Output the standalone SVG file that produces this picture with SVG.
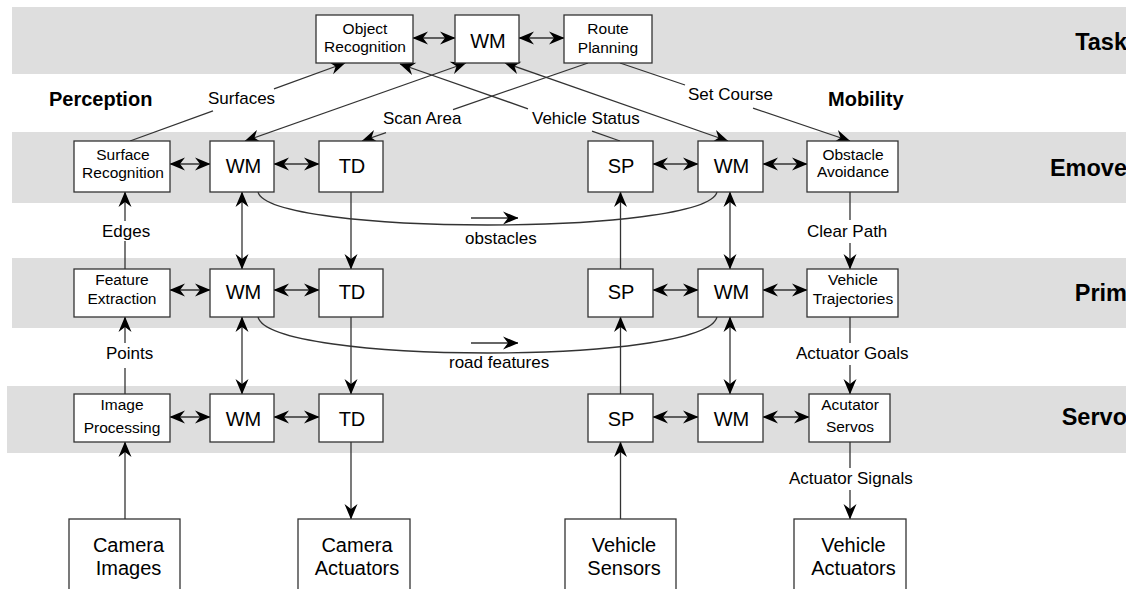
<svg xmlns="http://www.w3.org/2000/svg" width="1126" height="589" viewBox="0 0 1126 589">
<style>
text{font-family:"Liberation Sans",Arial,sans-serif;fill:#000}
.band{fill:#dedede}
.box{fill:#fff;stroke:#333;stroke-width:1.3}
.n{font-size:15.5px;text-anchor:middle}
.b{font-size:20px;text-anchor:middle}
.lbl{font-size:17px}
.row{font-size:23.5px;font-weight:bold;text-anchor:end}
.hd{font-size:20px;font-weight:bold}
.c line,.c path{stroke:#333;stroke-width:1.3;fill:none}
.d{marker-start:url(#ah);marker-end:url(#ah)}
.e{marker-end:url(#ah)}
</style>
<defs>
<marker id="ah" viewBox="-16 -8 16 16" refX="0" refY="0" markerWidth="16" markerHeight="16" markerUnits="userSpaceOnUse" orient="auto-start-reverse">
<path d="M0.5,0 L-15,-6.5 L-10,0 L-15,6.5 Z" fill="#000"/>
</marker>
</defs>
<g id="bands">
<rect class="band" x="12" y="7" width="1114" height="67"/>
<rect class="band" x="12" y="132" width="1114" height="71"/>
<rect class="band" x="12" y="258" width="1114" height="70"/>
<rect class="band" x="7" y="386" width="1119" height="67"/>
<text class="row" x="1127" y="50">Task</text>
<text class="row" x="1127" y="176">Emove</text>
<text class="row" x="1127" y="301">Prim</text>
<text class="row" x="1127" y="425">Servo</text>
<text class="hd" x="49" y="106">Perception</text>
<text class="hd" x="828" y="106">Mobility</text>
</g>
<g class="c" id="connectors">
<line class="d" x1="413" y1="38" x2="455" y2="38"/>
<line class="d" x1="519" y1="38" x2="564" y2="38"/>
<line class="d" x1="170" y1="164" x2="210" y2="164"/>
<line class="d" x1="274" y1="164" x2="319" y2="164"/>
<line class="d" x1="653" y1="164" x2="698" y2="164"/>
<line class="d" x1="763" y1="164" x2="807" y2="164"/>
<line class="d" x1="170" y1="290" x2="210" y2="290"/>
<line class="d" x1="274" y1="290" x2="319" y2="290"/>
<line class="d" x1="653" y1="290" x2="698" y2="290"/>
<line class="d" x1="763" y1="290" x2="807" y2="290"/>
<line class="d" x1="170" y1="417" x2="210" y2="417"/>
<line class="d" x1="274" y1="417" x2="319" y2="417"/>
<line class="d" x1="653" y1="417" x2="698" y2="417"/>
<line class="d" x1="763" y1="417" x2="809" y2="417"/>
<line class="d" x1="242" y1="192" x2="242" y2="269"/>
<line class="d" x1="242" y1="317" x2="242" y2="394"/>
<line class="d" x1="730" y1="192" x2="730" y2="269"/>
<line class="d" x1="730" y1="317" x2="730" y2="394"/>
<line class="e" x1="351" y1="192" x2="351" y2="269"/>
<line class="e" x1="351" y1="317" x2="351" y2="394"/>
<line class="e" x1="351" y1="442" x2="351" y2="519"/>
<line class="e" x1="620.5" y1="269" x2="620.5" y2="192"/>
<line class="e" x1="620.5" y1="394" x2="620.5" y2="317"/>
<line class="e" x1="620.5" y1="519" x2="620.5" y2="442"/>
<line class="e" x1="125" y1="519" x2="125" y2="442"/>
<line x1="125" y1="394" x2="125" y2="368"/>
<line class="e" x1="125" y1="343" x2="125" y2="317"/>
<line x1="125" y1="269" x2="125" y2="241"/>
<line class="e" x1="125" y1="221" x2="125" y2="192"/>
<line x1="850" y1="192" x2="850" y2="220"/>
<line class="e" x1="850" y1="243" x2="850" y2="269"/>
<line x1="850" y1="317" x2="850" y2="343"/>
<line class="e" x1="850" y1="365" x2="850" y2="394"/>
<line x1="850" y1="442" x2="850" y2="468"/>
<line class="e" x1="850" y1="490" x2="850" y2="519"/>
<line x1="130" y1="141" x2="213" y2="110.9"/>
<line class="e" x1="274" y1="88.8" x2="345" y2="63"/>
<line class="d" x1="245" y1="141" x2="466" y2="63"/>
<line x1="588" y1="63" x2="453" y2="109.6"/>
<line class="e" x1="386" y1="132.7" x2="362" y2="141"/>
<line x1="620" y1="141" x2="592" y2="131.2"/>
<line class="e" x1="528" y1="108.8" x2="400" y2="64"/>
<line class="d" x1="505" y1="63" x2="728" y2="141"/>
<line x1="620" y1="63" x2="685" y2="85"/>
<line class="e" x1="753" y1="108.1" x2="850" y2="141"/>
<path d="M258,192 C270,236 705,236 717,192"/>
<path d="M258,317 C270,365 705,365 717,317"/>
<line class="e" x1="471" y1="218" x2="518" y2="218"/>
<line class="e" x1="471" y1="343" x2="518" y2="343"/>
</g>
<g id="labels">
<text class="lbl" x="208" y="104">Surfaces</text>
<text class="lbl" x="383" y="124">Scan Area</text>
<text class="lbl" x="532" y="124">Vehicle Status</text>
<text class="lbl" x="688" y="100">Set Course</text>
<text class="lbl" x="102" y="237">Edges</text>
<text class="lbl" x="106" y="359">Points</text>
<text class="lbl" x="465" y="244">obstacles</text>
<text class="lbl" x="449" y="368">road features</text>
<text class="lbl" x="807" y="237">Clear Path</text>
<text class="lbl" x="796" y="359">Actuator Goals</text>
<text class="lbl" x="789" y="484">Actuator Signals</text>
</g>
<g id="object-recognition"><rect class="box" x="316" y="15" width="97" height="48"/><text class="n" x="365" y="34">Object</text><text class="n" x="365" y="52">Recognition</text></g>
<g id="wm-task"><rect class="box" x="455" y="15" width="64" height="48"/><text class="b" x="488" y="48">WM</text></g>
<g id="route-planning"><rect class="box" x="564" y="15" width="88" height="48"/><text class="n" x="608" y="34">Route</text><text class="n" x="608" y="52.5">Planning</text></g>
<g id="surface-recognition"><rect class="box" x="74" y="141" width="96" height="51"/><text class="n" x="123" y="159.5">Surface</text><text class="n" x="123" y="178">Recognition</text></g>
<g id="wm-emove-l"><rect class="box" x="210" y="141" width="64" height="51"/><text class="b" x="243.5" y="173">WM</text></g>
<g id="td-emove"><rect class="box" x="319" y="141" width="64" height="51"/><text class="b" x="352" y="173">TD</text></g>
<g id="sp-emove"><rect class="box" x="588" y="141" width="65" height="51"/><text class="b" x="621" y="173">SP</text></g>
<g id="wm-emove-r"><rect class="box" x="698" y="141" width="65" height="51"/><text class="b" x="731.5" y="173">WM</text></g>
<g id="obstacle-avoidance"><rect class="box" x="807" y="141" width="91" height="51"/><text class="n" x="853" y="159.5">Obstacle</text><text class="n" x="853" y="177">Avoidance</text></g>
<g id="feature-extraction"><rect class="box" x="74" y="269" width="96" height="48"/><text class="n" x="122" y="284.5">Feature</text><text class="n" x="122" y="303.5">Extraction</text></g>
<g id="wm-prim-l"><rect class="box" x="210" y="269" width="64" height="48"/><text class="b" x="243.5" y="298.5">WM</text></g>
<g id="td-prim"><rect class="box" x="319" y="269" width="64" height="48"/><text class="b" x="352" y="298.5">TD</text></g>
<g id="sp-prim"><rect class="box" x="588" y="269" width="65" height="48"/><text class="b" x="621" y="298.5">SP</text></g>
<g id="wm-prim-r"><rect class="box" x="698" y="269" width="65" height="48"/><text class="b" x="731.5" y="298.5">WM</text></g>
<g id="vehicle-trajectories"><rect class="box" x="807" y="269" width="91" height="48"/><text class="n" x="853" y="284.5">Vehicle</text><text class="n" x="853" y="303.5">Trajectories</text></g>
<g id="image-processing"><rect class="box" x="74" y="394" width="96" height="48"/><text class="n" x="122" y="409.5">Image</text><text class="n" x="122" y="433">Processing</text></g>
<g id="wm-servo-l"><rect class="box" x="210" y="394" width="64" height="48"/><text class="b" x="243.5" y="425.5">WM</text></g>
<g id="td-servo"><rect class="box" x="319" y="394" width="64" height="48"/><text class="b" x="352" y="425.5">TD</text></g>
<g id="sp-servo"><rect class="box" x="588" y="394" width="65" height="48"/><text class="b" x="621" y="425.5">SP</text></g>
<g id="wm-servo-r"><rect class="box" x="698" y="394" width="65" height="48"/><text class="b" x="731.5" y="425.5">WM</text></g>
<g id="actuator-servos"><rect class="box" x="809" y="394" width="81" height="48"/><text class="n" x="850" y="409.5">Acutator</text><text class="n" x="850" y="432">Servos</text></g>
<g id="camera-images"><rect class="box" x="69" y="519" width="111" height="80"/><text class="b" x="128.5" y="552">Camera</text><text class="b" x="128.5" y="575">Images</text></g>
<g id="camera-actuators"><rect class="box" x="298" y="519" width="112" height="80"/><text class="b" x="357" y="552">Camera</text><text class="b" x="357" y="575">Actuators</text></g>
<g id="vehicle-sensors"><rect class="box" x="565" y="519" width="111" height="80"/><text class="b" x="624" y="552">Vehicle</text><text class="b" x="624" y="575">Sensors</text></g>
<g id="vehicle-actuators"><rect class="box" x="794" y="519" width="112" height="80"/><text class="b" x="853.5" y="552">Vehicle</text><text class="b" x="853.5" y="575">Actuators</text></g>
</svg>
